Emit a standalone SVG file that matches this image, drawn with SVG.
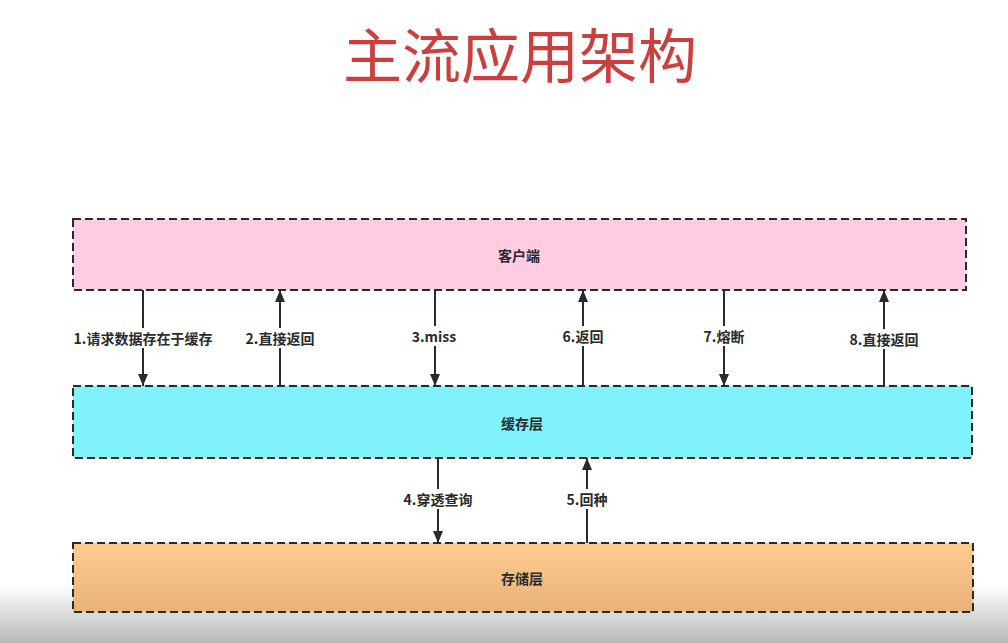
<svg xmlns="http://www.w3.org/2000/svg" width="1008" height="643" viewBox="0 0 1008 643">
<defs>
<linearGradient id="bg" x1="0" y1="0" x2="0" y2="1">
<stop offset="0" stop-color="#ffffff"/>
<stop offset="1" stop-color="#b8b8b8"/>
</linearGradient>
<linearGradient id="store" x1="0" y1="0" x2="0" y2="1">
<stop offset="0" stop-color="#ffcc90"/>
<stop offset="1" stop-color="#e8b27a"/>
</linearGradient>
<marker id="ah" viewBox="0 0 12 10" refX="12" refY="5" markerWidth="12" markerHeight="10" markerUnits="userSpaceOnUse" orient="auto">
<path d="M0,0 L12,5 L0,10 z" fill="#2a2a2a"/>
</marker>
<style>
.box{stroke:#2a2a2a;stroke-width:2;stroke-dasharray:8 4}
.lbl{font-family:"Noto Sans CJK SC","Liberation Sans",sans-serif;font-size:14px;font-weight:bold;fill:#2a2a2a;text-anchor:middle;dominant-baseline:central}
.lb{fill:#fff}
.cn{stroke:#2a2a2a;stroke-width:2;fill:none;marker-end:url(#ah)}
.title{font-family:"Noto Sans CJK SC",sans-serif;font-size:59px;fill:#cc3f3f;text-anchor:middle;dominant-baseline:central}
</style>
</defs>
<rect width="1008" height="643" fill="#fff"/>
<rect x="0" y="585" width="1008" height="58" fill="url(#bg)"/>
<text class="title" x="520" y="52">主流应用架构</text>
<g id="client">
<rect class="box" x="73" y="219" width="893" height="71" fill="#ffcce4"/>
<text class="lbl" x="519" y="255">客户端</text>
</g>
<g id="cache">
<rect class="box" x="73" y="386" width="899" height="72" fill="#80f2fc"/>
<text class="lbl" x="522" y="423">缓存层</text>
</g>
<g id="storage">
<rect class="box" x="73" y="543" width="900" height="69" fill="url(#store)"/>
<text class="lbl" x="522" y="578">存储层</text>
</g>
<g id="connectors">
<line class="cn" x1="143" y1="290" x2="143" y2="386"/>
<line class="cn" x1="280" y1="386" x2="280" y2="290"/>
<line class="cn" x1="435" y1="290" x2="435" y2="386"/>
<line class="cn" x1="583" y1="386" x2="583" y2="290"/>
<line class="cn" x1="724" y1="290" x2="724" y2="386"/>
<line class="cn" x1="884" y1="386" x2="884" y2="290"/>
<line class="cn" x1="438" y1="458" x2="438" y2="543"/>
<line class="cn" x1="587" y1="543" x2="587" y2="458"/>
<rect class="lb" x="68" y="328" width="150" height="20"/>
<text class="lbl" x="143" y="338">1.请求数据存在于缓存</text>
<rect class="lb" x="242" y="328" width="76" height="20"/>
<text class="lbl" x="280" y="338">2.直接返回</text>
<rect class="lb" x="408" y="326" width="54" height="20"/>
<text class="lbl" x="434" y="336">3.miss</text>
<rect class="lb" x="560" y="326" width="46" height="20"/>
<text class="lbl" x="583" y="336">6.返回</text>
<rect class="lb" x="701" y="326" width="48" height="20"/>
<text class="lbl" x="724" y="336">7.熔断</text>
<rect class="lb" x="845" y="329" width="78" height="20"/>
<text class="lbl" x="884" y="339">8.直接返回</text>
<rect class="lb" x="399" y="489" width="78" height="20"/>
<text class="lbl" x="438" y="499">4.穿透查询</text>
<rect class="lb" x="564" y="489" width="46" height="20"/>
<text class="lbl" x="587" y="499">5.回种</text>
</g>
</svg>
